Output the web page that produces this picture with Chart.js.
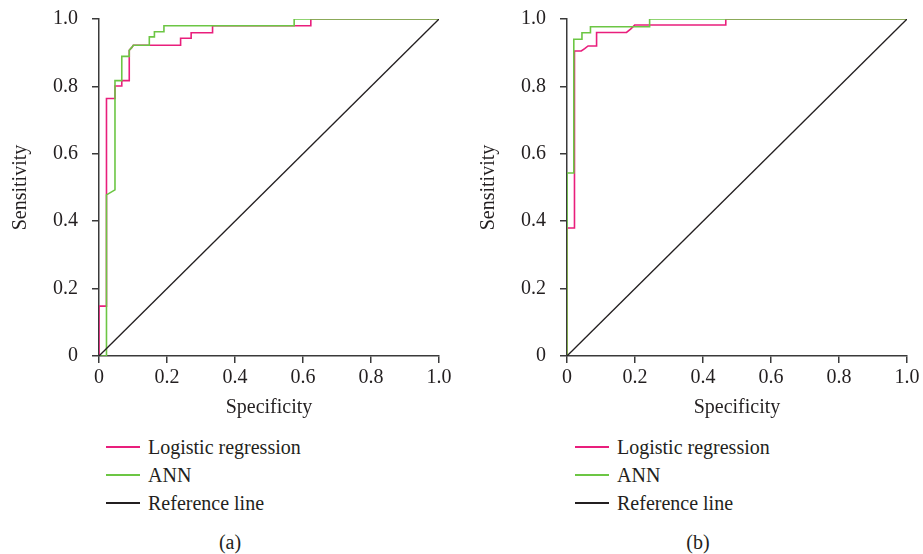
<!DOCTYPE html>
<html>
<head>
<meta charset="utf-8">
<script src="https://cdn.jsdelivr.net/npm/chart.js@4.4.0/dist/chart.umd.min.js"></script>
<style>
    body { margin: 0; background: #fff; width: 923px; height: 554px; position: relative; overflow: hidden;
           font-family: 'Liberation Serif', serif; color: #231f20; }
    canvas { position: absolute; top: -7px; }
    #chartA { left: 0; }
    #chartB { left: 468px; }
    .legend { position: absolute; top: 433px; font-size: 20px; }
    .legend .row { position: relative; height: 28px; line-height: 28px; white-space: nowrap; padding-left: 42px; }
    .legend .swatch { position: absolute; left: 0; top: 13px; width: 34px; height: 1.5px; }
    .caption { position: absolute; top: 530px; width: 100px; text-align: center; font-size: 20px; line-height: 24px; }
</style>
</head>
<body>
<canvas id="chartA" width="462" height="432"></canvas>
<canvas id="chartB" width="455" height="432"></canvas>
<div class="legend" id="legendA" style="left:106px"></div>
<div class="legend" id="legendB" style="left:575px"></div>
<div class="caption" style="left:180px">(a)</div>
<div class="caption" style="left:648px">(b)</div>

<script>
// tick labels and series names
var xTickLabels = ['0', '0.2', '0.4', '0.6', '0.8', '1.0'];
var yTickLabels = ['0', '0.2', '0.4', '0.6', '0.8', '1.0'];
var seriesNames = ['Logistic regression', 'ANN', 'Reference line'];
var seriesColors = ['#e91e7c', '#6cc644', '#231f20'];

// reference diagonal
var refX = [0, 1];
var refY = [0, 1];

// (a) logistic regression
var lrAx = [0, 0, 0.022, 0.022, 0.047, 0.047, 0.067, 0.067, 0.089, 0.089, 0.096, 0.101, 0.240, 0.240, 0.271, 0.271, 0.334, 0.334, 0.623, 0.623, 1.0];
var lrAy = [0, 0.148, 0.148, 0.764, 0.764, 0.801, 0.801, 0.817, 0.817, 0.907, 0.915, 0.922, 0.922, 0.943, 0.943, 0.959, 0.959, 0.980, 0.980, 1.0, 1.0];
// (a) ANN
var annAx = [0, 0.022, 0.022, 0.047, 0.047, 0.067, 0.067, 0.089, 0.089, 0.096, 0.101, 0.148, 0.148, 0.163, 0.163, 0.191, 0.191, 0.574, 0.574, 1.0];
var annAy = [0, 0, 0.478, 0.493, 0.817, 0.817, 0.889, 0.889, 0.907, 0.915, 0.922, 0.922, 0.947, 0.947, 0.962, 0.962, 0.980, 0.980, 1.0, 1.0];

// (b) logistic regression
var lrBx = [0, 0, 0.022, 0.022, 0.042, 0.052, 0.062, 0.087, 0.087, 0.175, 0.187, 0.199, 0.467, 0.467, 1.0];
var lrBy = [0, 0.380, 0.380, 0.905, 0.905, 0.912, 0.920, 0.920, 0.960, 0.960, 0.970, 0.982, 0.982, 1.0, 1.0];
// (b) ANN
var annBx = [0, 0, 0.020, 0.020, 0.044, 0.044, 0.069, 0.069, 0.243, 0.243, 1.0];
var annBy = [0, 0.543, 0.543, 0.940, 0.940, 0.959, 0.959, 0.977, 0.977, 1.0, 1.0];

var fontFamily = "'Liberation Serif', serif";
var axisColor = '#3a3a3a';
var textColor = '#231f20';

function toPoints(xs, ys) {
    return xs.map(function (x, i) { return { x: x, y: ys[i] }; });
}

function makeChart(id, lrX, lrY, annX, annY, padRight) {
    var ctx = document.getElementById(id).getContext('2d');
    return new Chart(ctx, {
        type: 'line',
        data: {
            datasets: [
                { label: seriesNames[2], data: toPoints(refX, refY), borderColor: seriesColors[2], borderWidth: 1.3 },
                { label: seriesNames[1], data: toPoints(annX, annY), borderColor: seriesColors[1], borderWidth: 1.6 },
                { label: seriesNames[0], data: toPoints(lrX, lrY), borderColor: seriesColors[0], borderWidth: 1.6 }
            ]
        },
        options: {
            responsive: false,
            animation: false,
            layout: { padding: { top: 8, right: padRight, left: 0, bottom: 0 } },
            elements: { point: { radius: 0 }, line: { tension: 0, fill: false } },
            plugins: { legend: { display: false }, tooltip: { enabled: false } },
            scales: {
                x: {
                    type: 'linear', min: 0, max: 1,
                    afterFit: function (scale) { scale.height = 69; },
                    border: { color: axisColor, width: 1.5 },
                    grid: { drawOnChartArea: false, drawTicks: true, tickLength: 7, color: axisColor, lineWidth: 1.5 },
                    ticks: {
                        stepSize: 0.2, autoSkip: false, maxRotation: 0, padding: 3,
                        color: textColor, font: { family: fontFamily, size: 20 },
                        callback: function (v, i) { return xTickLabels[i]; }
                    },
                    title: { display: true, text: 'Specificity', color: textColor,
                             font: { family: fontFamily, size: 20 }, padding: { top: 0, bottom: 5 } }
                },
                y: {
                    type: 'linear', min: 0, max: 1,
                    afterFit: function (scale) { scale.width = 99; },
                    border: { color: axisColor, width: 1.5 },
                    grid: { drawOnChartArea: false, drawTicks: true, tickLength: 7, color: axisColor, lineWidth: 1.5 },
                    ticks: {
                        stepSize: 0.2, autoSkip: false, padding: 14,
                        color: textColor, font: { family: fontFamily, size: 20 },
                        callback: function (v, i) { return yTickLabels[i]; }
                    },
                    title: { display: true, text: 'Sensitivity', color: textColor,
                             font: { family: fontFamily, size: 20 }, padding: { top: 9, bottom: 0 } }
                }
            }
        }
    });
}

function buildLegend(id) {
    var html = '';
    for (var i = 0; i < seriesNames.length; i++) {
        html += '<div class="row"><span class="swatch" style="background:' + seriesColors[i] + '"></span>' + seriesNames[i] + '</div>';
    }
    document.getElementById(id).innerHTML = html;
}

makeChart('chartA', lrAx, lrAy, annAx, annAy, 23);
makeChart('chartB', lrBx, lrBy, annBx, annBy, 16);
buildLegend('legendA');
buildLegend('legendB');
</script>
</body>
</html>
